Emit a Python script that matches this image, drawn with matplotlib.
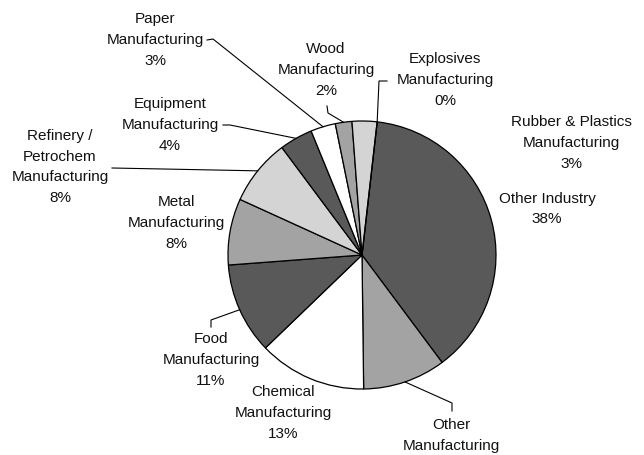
import numpy as np
import matplotlib.pyplot as plt

plt.rcParams['font.family'] = ['Liberation Sans', 'DejaVu Sans']

W, H = 644, 455

# slices in clockwise order starting from the top
sectors = ["Other Industry", "Other\nManufacturing", "Chemical\nManufacturing",
           "Food\nManufacturing", "Metal\nManufacturing",
           "Refinery /\nPetrochem\nManufacturing", "Equipment\nManufacturing",
           "Paper\nManufacturing", "Wood\nManufacturing",
           "Rubber & Plastics\nManufacturing", "Explosives\nManufacturing"]
shares = [38, 10, 13, 11, 8, 8, 4, 3, 2, 3, 0]

DARK, MID, LIGHT, WHITE = "#595959", "#a3a3a3", "#d4d4d4", "#ffffff"
fills = [DARK, MID, WHITE, DARK, MID, LIGHT, DARK, WHITE, MID, LIGHT, LIGHT]

# label block centres (pixels from top-left)
label_pos = [(547, 209), (451, 446), (283, 413), (211, 360), (176, 223),
             (60, 167), (170, 125), (155, 40), (326, 70), (571, 143), (445, 80)]
# leader lines: start next to the label, optional elbow, then to the slice edge
leaders = {
    1: [(452, 411), (452, 403)],
    3: [(211, 327), (211, 320)],
    5: [(112, 168)],
    6: [(223, 125), (230, 125)],
    7: [(207, 40), (213, 39)],
    8: [(327, 106), (328, 113)],
    10: [(387, 81), (379, 81)],
}

cx, cy, R = 362, 255, 134

fig = plt.figure(figsize=(W / 100, H / 100), dpi=100)
ax = fig.add_axes([0, 0, 1, 1])

wedges, _ = ax.pie(shares, colors=fills, startangle=83.5, counterclock=False,
                   center=(cx, H - cy), radius=R,
                   wedgeprops=dict(edgecolor="black", linewidth=0.9))

for i, (name, val) in enumerate(zip(sectors, shares)):
    x, y = label_pos[i]
    ax.text(x, H - y, f"{name}\n{val}%", ha="center", va="center",
            fontsize=11, color="#111111", linespacing=1.62)
    if i in leaders:
        w = wedges[i]
        mid = np.deg2rad((w.theta1 + w.theta2) / 2)
        ax_x = cx + R * np.cos(mid)
        ax_y = H - cy + R * np.sin(mid)
        pts = [(px, H - py) for px, py in leaders[i]] + [(ax_x, ax_y)]
        xs, ys = zip(*pts)
        ax.plot(xs, ys, color="black", linewidth=0.8)

ax.set_xlim(0, W)
ax.set_ylim(0, H)
ax.set_aspect("equal")
ax.axis("off")

fig.savefig("out.png", dpi=100)
